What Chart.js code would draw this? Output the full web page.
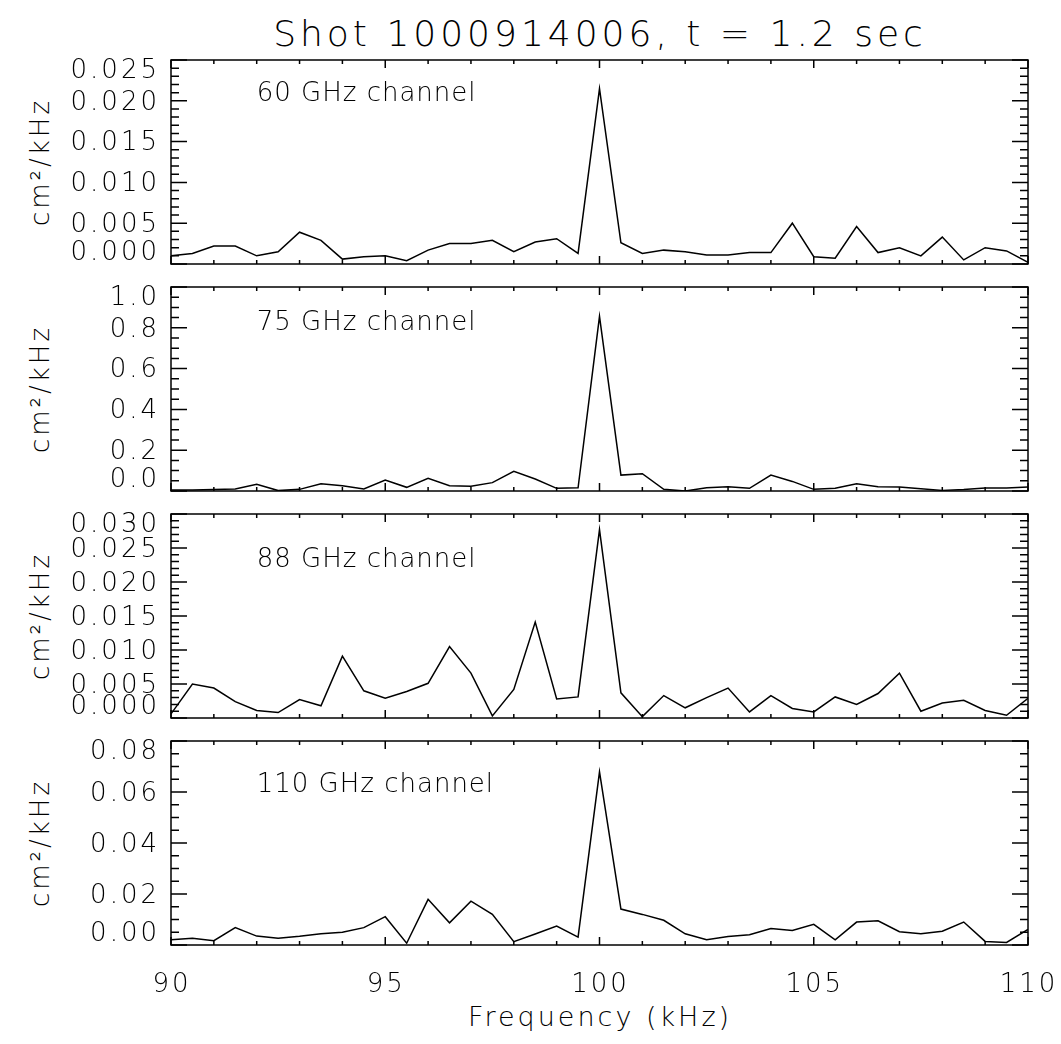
<!DOCTYPE html>
<html>
<head>
<meta charset="utf-8">
<script src="https://cdn.jsdelivr.net/npm/chart.js@4.4.1/dist/chart.umd.min.js"></script>
<style>
  body { margin:0; background:#fff; width:1061px; height:1044px; position:relative; overflow:hidden; font-family:'DejaVu Sans ExtraLight', 'DejaVu Sans', sans-serif; font-weight:200; color:#000; }
  canvas { position:absolute; left:0; top:0; }
  .t { position:absolute; white-space:nowrap; transform:translate(-50%,-50%); }
  .yt { position:absolute; white-space:nowrap; transform:translate(-50%,-50%) rotate(-90deg); font-size:26px; letter-spacing:3px; }
</style>
</head>
<body>
<div class="t" style="left:600px;top:33px;font-size:36px;letter-spacing:4px">Shot 1000914006, t = 1.2 sec</div>
<div class="t" style="left:600px;top:1016px;font-size:27px;letter-spacing:3px">Frequency (kHz)</div>
<div class="yt" style="left:40px;top:162px">cm²/kHz</div>
<div class="yt" style="left:40px;top:389px">cm²/kHz</div>
<div class="yt" style="left:40px;top:616px">cm²/kHz</div>
<div class="yt" style="left:40px;top:843px">cm²/kHz</div>
<canvas id="c1" width="1061" height="1044"></canvas>
<canvas id="c2" width="1061" height="1044"></canvas>
<canvas id="c3" width="1061" height="1044"></canvas>
<canvas id="c4" width="1061" height="1044"></canvas>
<script>
// ── data ──
const freq = [90, 90.5, 91, 91.5, 92, 92.5, 93, 93.5, 94, 94.5, 95, 95.5, 96, 96.5, 97, 97.5, 98, 98.5, 99, 99.5,
              100, 100.5, 101, 101.5, 102, 102.5, 103, 103.5, 104, 104.5, 105, 105.5, 106, 106.5, 107, 107.5, 108, 108.5, 109, 109.5, 110];

const ch60 = [0.0010, 0.0013, 0.0022, 0.0022, 0.0010, 0.0015, 0.0039, 0.0029, 0.0006, 0.0009, 0.0010, 0.0004, 0.0017, 0.0025, 0.0025, 0.0029, 0.0015, 0.0027, 0.0031, 0.0013,
              0.0215, 0.0026, 0.0013, 0.0017, 0.0015, 0.0011, 0.0011, 0.0014, 0.0014, 0.0050, 0.0009, 0.0007, 0.0046, 0.0014, 0.0020, 0.0010, 0.0033, 0.0005, 0.0020, 0.0016, 0.0002];

const ch75 = [0.005, 0.005, 0.007, 0.010, 0.033, 0.002, 0.008, 0.036, 0.026, 0.010, 0.054, 0.018, 0.062, 0.026, 0.023, 0.041, 0.096, 0.059, 0.013, 0.016,
              0.856, 0.078, 0.085, 0.008, 0.000, 0.016, 0.021, 0.013, 0.078, 0.047, 0.008, 0.013, 0.036, 0.021, 0.020, 0.011, 0.003, 0.007, 0.015, 0.015, 0.020];

const ch88 = [0.0006, 0.0050, 0.0044, 0.0024, 0.0011, 0.0008, 0.0027, 0.0018, 0.0091, 0.0040, 0.0029, 0.0039, 0.0051, 0.0105, 0.0066, 0.0003, 0.0042, 0.0141, 0.0028, 0.0031,
              0.0277, 0.0037, 0.0002, 0.0033, 0.0015, 0.0030, 0.0044, 0.0009, 0.0033, 0.0014, 0.0009, 0.0031, 0.0020, 0.0036, 0.0066, 0.0010, 0.0022, 0.0026, 0.0011, 0.0004, 0.0029];

const ch110 = [0.0021, 0.0026, 0.0017, 0.0068, 0.0035, 0.0026, 0.0034, 0.0044, 0.0050, 0.0068, 0.0111, 0.0007, 0.0179, 0.0087, 0.0172, 0.0120, 0.0013, 0.0043, 0.0074, 0.0031,
               0.0679, 0.0141, 0.0120, 0.0097, 0.0044, 0.0021, 0.0033, 0.0040, 0.0065, 0.0057, 0.0081, 0.0020, 0.0090, 0.0095, 0.0052, 0.0044, 0.0054, 0.0090, 0.0014, 0.0010, 0.0061];

const xTickLabels = ['90', '95', '100', '105', '110'];
const yTicks60  = ['0.000', '0.005', '0.010', '0.015', '0.020', '0.025'];
const yTicks75  = ['0.0', '0.2', '0.4', '0.6', '0.8', '1.0'];
const yTicks88  = ['0.000', '0.005', '0.010', '0.015', '0.020', '0.025', '0.030'];
const yTicks110 = ['0.00', '0.02', '0.04', '0.06', '0.08'];
const channelNames = ['60 GHz channel', '75 GHz channel', '88 GHz channel', '110 GHz channel'];

// panel layout (pixel box + axis steps)
const panels = [
  { id:'c1', top:60,  vals:ch60,  ticks:yTicks60,  major:0.005, minors:5, labelY:0.0208 },
  { id:'c2', top:287, vals:ch75,  ticks:yTicks75,  major:0.2,   minors:4, labelY:0.82 },
  { id:'c3', top:514, vals:ch88,  ticks:yTicks88,  major:0.005, minors:5, labelY:0.0232 },
  { id:'c4', top:741, vals:ch110, ticks:yTicks110, major:0.02,  minors:4, labelY:0.0627, showX:true },
];
const PH = 204;
const FONT = '"DejaVu Sans ExtraLight", "DejaVu Sans", sans-serif';

// IDL-style box: inward ticks on all four sides, labels kept inside the box height
const idlFrame = {
  id: 'idlFrame',
  afterDraw(chart, args, o) {
    const { ctx, chartArea: a, scales: { x, y } } = chart;
    ctx.save();
    ctx.strokeStyle = '#000';
    ctx.lineWidth = 1.5;
    ctx.strokeRect(a.left, a.top, a.right - a.left, a.bottom - a.top);
    ctx.beginPath();
    for (let f = 90; f <= 110; f++) {
      const px = x.getPixelForValue(f), len = f % 5 === 0 ? 8 : 4;
      ctx.moveTo(px, a.bottom); ctx.lineTo(px, a.bottom - len);
      ctx.moveTo(px, a.top);    ctx.lineTo(px, a.top + len);
    }
    const step = o.major / o.minors, n = (o.ticks.length - 1) * o.minors;
    for (let i = 0; i <= n; i++) {
      const py = y.getPixelForValue(i * step), len = i % o.minors === 0 ? 16 : 8;
      ctx.moveTo(a.left, py);  ctx.lineTo(a.left + len, py);
      ctx.moveTo(a.right, py); ctx.lineTo(a.right - len, py);
    }
    ctx.stroke();

    ctx.fillStyle = '#000';
    ctx.font = '200 26px ' + FONT;
    ctx.letterSpacing = '3px';
    ctx.textAlign = 'right';
    ctx.textBaseline = 'middle';
    o.ticks.forEach((t, i) => {
      let py = y.getPixelForValue(i * o.major) + 2;
      py = Math.min(Math.max(py, a.top + 11), a.bottom - 11);
      ctx.fillText(t, a.left - 11, py);
    });
    if (o.showX) {
      ctx.textAlign = 'center';
      xTickLabels.forEach(t => ctx.fillText(t, x.getPixelForValue(+t) + 1, a.bottom + 40));
    }
    ctx.letterSpacing = '1px';
    ctx.textAlign = 'left';
    ctx.fillText(o.name, x.getPixelForValue(92), y.getPixelForValue(o.labelY));
    ctx.restore();
  }
};

panels.forEach((p, k) => {
  new Chart(document.getElementById(p.id), {
    type: 'line',
    data: {
      datasets: [{
        data: freq.map((f, i) => ({ x: f, y: p.vals[i] })),
        borderColor: '#000', borderWidth: 1.5, pointRadius: 0, tension: 0, fill: false
      }]
    },
    options: {
      responsive: false, animation: false, events: [],
      layout: { padding: { left: 171, right: 33, top: p.top, bottom: 1044 - p.top - PH } },
      plugins: {
        legend: { display: false }, tooltip: { enabled: false },
        idlFrame: { ticks: p.ticks, major: p.major, minors: p.minors, labelY: p.labelY, name: channelNames[k], showX: !!p.showX }
      },
      scales: {
        x: { type: 'linear', min: 90, max: 110, display: false },
        y: { type: 'linear', min: 0, max: (p.ticks.length - 1) * p.major, display: false }
      }
    },
    plugins: [idlFrame]
  });
});
</script>
</body>
</html>
